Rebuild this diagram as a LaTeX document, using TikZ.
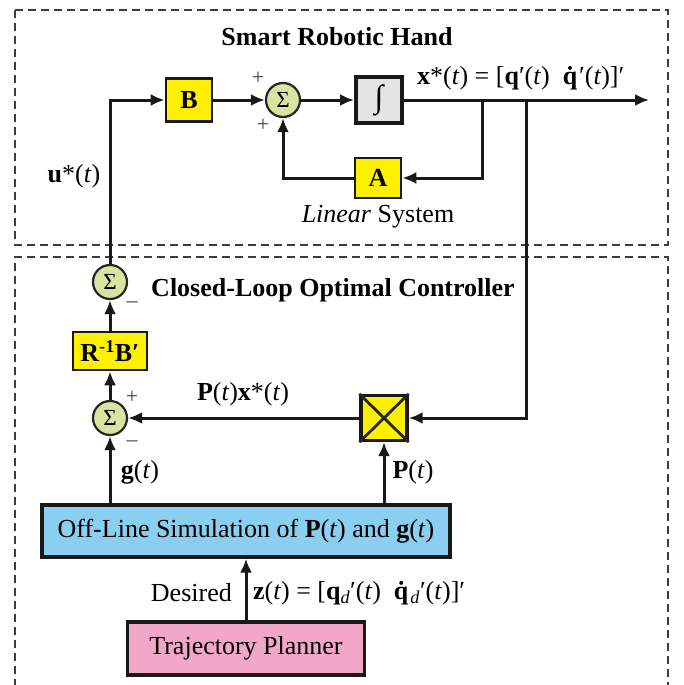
\documentclass[tikz,border=0pt]{standalone}
\usepackage{fontspec}
\setmainfont{Liberation Serif}
\usetikzlibrary{arrows.meta,calc}
\definecolor{ybox}{RGB}{255,240,0}
\definecolor{sumg}{RGB}{214,230,160}
\definecolor{intg}{RGB}{228,228,228}
\definecolor{blu}{RGB}{138,206,240}
\definecolor{pnk}{RGB}{242,166,200}
\definecolor{dash}{RGB}{60,60,60}
\tikzset{
  conn/.style={line width=3pt, draw=black!90},
  arr/.style={conn, -{Latex[length=14pt,width=12pt]}},
  ybk/.style={draw=black!90, line width=2.6pt, fill=ybox, inner sep=0pt, font=\fontsize{26}{28}\selectfont\bfseries},
  sumc/.style={circle, draw=black!85, line width=2.2pt, fill=sumg, minimum size=34pt, inner sep=0pt, font=\fontsize{23}{24}\selectfont},
  lbl/.style={font=\fontsize{26}{28}\selectfont, inner sep=0pt},
  sgn/.style={font=\fontsize{22}{24}\selectfont, inner sep=0pt, text=black!75},
  frame/.style={draw=dash, line width=1.8pt, dash pattern=on 8pt off 5pt},
  bigbox/.style={draw=black!90, line width=3.4pt, inner sep=0pt, font=\fontsize{26}{28}\selectfont},
}
\newcommand{\vt}{\textit{t}}
\begin{document}
\begin{tikzpicture}[x=1pt,y=-1pt]
\useasboundingbox (0,0) rectangle (683,685);
% frames
\draw[frame] (15,10) rectangle (668,245);
\draw[frame] (15,700) -- (15,257) -- (668,257) -- (668,700);
% titles
\node[lbl, font=\fontsize{26}{28}\selectfont\bfseries] (t1) at (337,37) {Smart Robotic Hand};
\node[lbl, font=\fontsize{26}{28}\selectfont\bfseries] (t2) at (333,290) {Closed-Loop Optimal Controller};
% upper blocks
\node[ybk, minimum width=46pt, minimum height=43pt] (B) at (189,100) {B};
\node[sumc] (s1) at (283,100) {Σ};
\node[draw=black!90, line width=4pt, fill=intg, minimum width=46pt, minimum height=46pt, inner sep=0pt, font=\fontsize{32}{34}\selectfont] (I) at (379,100) {∫};
\node[ybk, minimum width=46pt, minimum height=40pt] (A) at (378,178) {A};
\node[lbl] (lin) at (378,217) {\textit{Linear} System};
\node[sgn] (p1) at (258,78) {+};
\node[sgn] (p2) at (263,125) {+};
\coordinate (br1) at (482,100);
\coordinate (br2) at (526,100);
\coordinate (out) at (649,100);
\node[lbl, anchor=west] (xl) at (417,78) {\textbf{x}*(\vt) = [\textbf{q}′(\vt)\ \ \textbf{\.{q}}′(\vt)]′};
\node[lbl] (ul) at (74,176) {\textbf{u}*(\vt)};
% controller blocks
\node[sumc] (s2) at (110,282) {Σ};
\node[sgn] (m1) at (132,305) {–};
\node[ybk, minimum width=74pt, minimum height=38pt] (RB) at (110,351) {R\textsuperscript{-1}B′};
\node[sumc] (s3) at (110,418) {Σ};
\node[sgn] (p3) at (132,397) {+};
\node[sgn] (m2) at (132,444) {–};
\node[draw=black!90, line width=3.4pt, fill=ybox, minimum width=46pt, minimum height=45pt, inner sep=0pt] (M) at (384,418) {};
\draw[line width=2.8pt, black!85] (M.north west) -- (M.south east) (M.north east) -- (M.south west);
\node[lbl] (px) at (243,394) {\textbf{P}(\vt)\textbf{x}*(\vt)};
\node[lbl] (gl) at (140,472) {\textbf{g}(\vt)};
\node[lbl] (pl) at (413,472) {\textbf{P}(\vt)};
\node[bigbox, fill=blu, minimum width=408pt, minimum height=52pt] (OL) at (246,531) {Off-Line Simulation of \textbf{P}(\vt) and \textbf{g}(\vt)};
\node[bigbox, fill=pnk, minimum width=237pt, minimum height=53pt] (TP) at (246,648.5) {Trajectory Planner};
\node[lbl, anchor=east] (des) at (232,593) {Desired};
\node[lbl, anchor=west] (zl) at (253,593) {\textbf{z}(\vt) = [\textbf{q}\textsubscript{\textit{d}}′(\vt)\ \ \textbf{\.{q}}\textsubscript{\textit{d}}′(\vt)]′};
% connectors
\draw[arr] (s2.north) |- (B.west);
\draw[arr] (B.east) -- (s1.west);
\draw[arr] (s1.east) -- (I.west);
\draw[arr] (I.east) -- (out);
\draw[arr] (br1) |- (A.east);
\draw[arr] (A.west) -| (s1.south);
\draw[arr] (br2) |- (M.east);
\draw[arr] (M.west) -- (s3.east);
\draw[arr] (s3.north) -- (RB.south);
\draw[arr] (RB.north) -- (s2.south);
\draw[arr] (OL.north -| s3) -- (s3.south);
\draw[arr] (OL.north -| M) -- (M.south);
\draw[arr] (TP.north) -- (OL.south);
\end{tikzpicture}
\end{document}
